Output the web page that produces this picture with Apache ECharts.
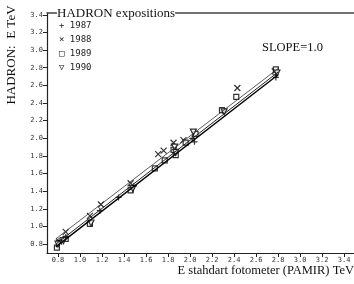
<!DOCTYPE html>
<html>
<head>
<meta charset="utf-8">
<script src="https://cdn.jsdelivr.net/npm/echarts@6/dist/echarts.min.js"></script>
<style>
  html, body { margin: 0; padding: 0; background: #fff; }
  #main { width: 354px; height: 284px; }
</style>
</head>
<body>
<div id="main"></div>
<script>
// tick labels
const xTicks = [0.8, 1.0, 1.2, 1.4, 1.6, 1.8, 2.0, 2.2, 2.4, 2.6, 2.8, 3.0, 3.2, 3.4];
const yTicks = [0.8, 1.0, 1.2, 1.4, 1.6, 1.8, 2.0, 2.2, 2.4, 2.6, 2.8, 3.0, 3.2, 3.4];

// exposition years, [pamir E, hadron E]
const years = ['1987', '1988', '1989', '1990'];
const pts1987 = [[0.81, 0.84], [0.87, 0.88], [1.18, 1.18], [1.35, 1.33], [1.49, 1.46],
  [1.86, 1.84], [2.02, 2.0], [2.04, 1.96], [2.3, 2.31], [2.78, 2.72], [2.78, 2.69]];
const pts1988 = [[0.81, 0.83], [0.87, 0.94], [1.09, 1.12], [1.19, 1.25], [1.46, 1.49],
  [1.71, 1.82], [1.76, 1.86], [1.85, 1.95], [1.94, 1.98], [2.43, 2.57], [2.77, 2.76]];
const pts1989 = [[0.79, 0.76], [0.87, 0.86], [1.09, 1.03], [1.46, 1.41], [1.68, 1.66],
  [1.77, 1.75], [1.85, 1.87], [1.87, 1.81], [1.96, 1.95], [2.05, 2.05], [2.29, 2.32],
  [2.42, 2.47], [2.78, 2.78]];
const pts1990 = [[0.8, 0.8], [0.85, 0.84], [1.1, 1.04], [1.48, 1.43], [1.86, 1.9],
  [1.87, 1.84], [2.03, 2.07], [2.31, 2.3], [2.79, 2.74]];

// fitted lines (slope 1.0)
const fitUpper = [[0.78, 0.86], [2.8, 2.79]];
const fitMid = [[0.78, 0.8], [2.8, 2.75]];
const fitLower = [[0.78, 0.77], [2.8, 2.72]];

const plusPath = 'path://M5,0L5,10M0,5L10,5';
const crossPath = 'path://M0,0L10,10M10,0L0,10';
const tickFont = { fontFamily: 'DejaVu Sans Mono', fontSize: 7, color: '#333' };

const chart = echarts.init(document.getElementById('main'));
chart.setOption({
  animation: false,
  grid: { left: 47, top: 13, right: 0, bottom: 31 },
  xAxis: [{
    type: 'value',
    min: 0.7,
    max: 3.49,
    axisLine: { lineStyle: { color: '#222', width: 1.2 } },
    axisTick: { customValues: xTicks, length: 4, lineStyle: { color: '#222' } },
    axisLabel: Object.assign({ customValues: xTicks, margin: 4, formatter: v => v.toFixed(1) }, tickFont),
    splitLine: { show: false }
  }, {
    type: 'value',
    position: 'top',
    min: 0.7,
    max: 3.49,
    axisLine: { show: true, lineStyle: { color: '#444', width: 1.5 } },
    axisTick: { show: false },
    axisLabel: { show: false },
    splitLine: { show: false }
  }],
  yAxis: {
    type: 'value',
    min: 0.7,
    max: 3.42,
    axisLine: { show: true, lineStyle: { color: '#222', width: 1.2 } },
    axisTick: { show: true, customValues: yTicks, length: 4, lineStyle: { color: '#222' } },
    axisLabel: Object.assign({ customValues: yTicks, margin: 4, formatter: v => v.toFixed(1) }, tickFont),
    splitLine: { show: false }
  },
  series: [
    { type: 'line', data: fitUpper, symbol: 'none', lineStyle: { color: '#333', width: 0.8 } },
    { type: 'line', data: fitMid, symbol: 'none', lineStyle: { color: '#222', width: 1 } },
    { type: 'line', data: fitLower, symbol: 'none', lineStyle: { color: '#000', width: 1.4 } },
    { name: years[0], type: 'scatter', data: pts1987, symbol: plusPath, symbolSize: 6,
      itemStyle: { color: 'none', borderColor: '#000', borderWidth: 1.2 } },
    { name: years[1], type: 'scatter', data: pts1988, symbol: crossPath, symbolSize: 6,
      itemStyle: { color: 'none', borderColor: '#000', borderWidth: 1.2 } },
    { name: years[2], type: 'scatter', data: pts1989, symbol: 'rect', symbolSize: 5,
      itemStyle: { color: '#fff', borderColor: '#000', borderWidth: 1.2 } },
    { name: years[3], type: 'scatter', data: pts1990, symbol: 'triangle', symbolRotate: 180, symbolSize: 6,
      itemStyle: { color: '#fff', borderColor: '#000', borderWidth: 1.2 } }
  ],
  graphic: [
    { type: 'text', x: 12, y: 55, rotation: Math.PI / 2,
      style: { text: 'HADRON:  E TeV', font: '13px "Liberation Serif"', fill: '#111', align: 'center', verticalAlign: 'middle' } },
    { type: 'text', right: 0, top: 264,
      style: { text: 'E stahdart fotometer (PAMIR) TeV', font: '12.5px "Liberation Serif"', fill: '#111' } },
    { type: 'text', left: 57, top: 7, z: 100,
      style: { text: 'HADRON expositions', font: '13px "Liberation Serif"', fill: '#111', backgroundColor: '#fff' } },
    { type: 'text', left: 262, top: 41,
      style: { text: 'SLOPE=1.0', font: '12.5px "Liberation Serif"', fill: '#111' } },
    { type: 'text', left: 59, top: 19,
      style: { text: '+ ' + years[0] + '\n× ' + years[1] + '\n□ ' + years[2] + '\n▽ ' + years[3],
        font: '9px "DejaVu Sans Mono"', lineHeight: 14, fill: '#222' } }
  ]
});
</script>
</body>
</html>
